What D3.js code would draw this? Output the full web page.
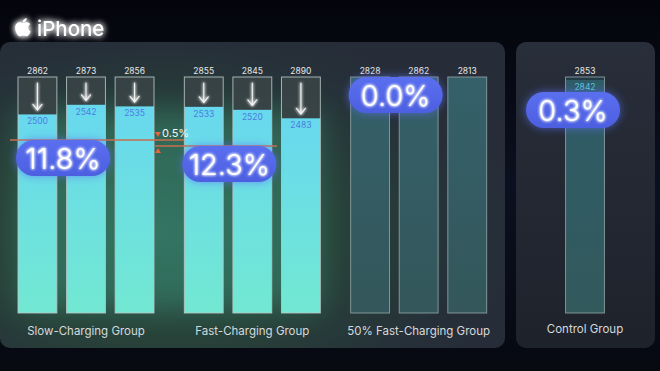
<!DOCTYPE html>
<html><head><meta charset="utf-8">
<script src="https://cdn.jsdelivr.net/npm/d3@7"></script>
<style>
html,body{margin:0;padding:0;background:#090c15;overflow:hidden;}
svg{display:block;font-family:Inter,"Open Sans",sans-serif;}
</style></head><body>
<svg id="c" width="660" height="371"></svg>
<script>
// ---- data ----
const groups = ["Slow-Charging Group", "Fast-Charging Group", "50% Fast-Charging Group", "Control Group"];
const before = [[2862, 2873, 2856], [2855, 2845, 2890], [2828, 2862, 2813], [2853]];
const after  = [[2500, 2542, 2535], [2533, 2520, 2483], [null, null, null], [2842]];
const dropLabels = ["11.8%", "12.3%", "0.0%", "0.3%"];
const dropValues = [11.8, 12.3, 0.0, 0.3];
const gapLabel = "0.5%";
const title = "iPhone";

// ---- layout ----
const W = 660, H = 371;
const svg = d3.select("#c");
const defs = svg.append("defs");

const boxTop = 77, base = 313;
const y = d3.scaleLinear().domain([1635, 2663]).range([base, boxTop]).clamp(true);
const gx = d3.scalePoint().domain(groups).range([86, 585]);
const bx = d3.scaleBand().domain([0, 1, 2]).range([-68, 68]).paddingInner(0.2);
const bw = bx.bandwidth();
const pctY = d3.scaleLinear().domain([11.8, 12.3]).range([140, 146]);

function barX(gi, i) {
  const c = gx(groups[gi]);
  if (before[gi].length === 1) return c - bw / 2;
  return c + bx(i);
}

function lin(id, stops, x2 = 0, y2 = 1) {
  const g = defs.append("linearGradient").attr("id", id)
    .attr("x1", 0).attr("y1", 0).attr("x2", x2).attr("y2", y2);
  stops.forEach(s => g.append("stop").attr("offset", s[0]).attr("stop-color", s[1]).attr("stop-opacity", s[2] == null ? 1 : s[2]));
}
lin("bgG", [[0, "#04050b"], [0.5, "#0b1020"], [1, "#070911"]]);
lin("cyan", [[0, "#68d8ee"], [1, "#72e8d2"]]);
lin("teal", [[0, "#35606a"], [1, "#33575a"]]);
lin("tealC", [[0, "#2f5c68"], [1, "#32595c"]]);
lin("pill", [[0, "#5a6ff0"], [1, "#4c5fe0"]]);
lin("p2", [[0, "#282e3a"], [1, "#1e222b"]]);
const rg = defs.append("radialGradient").attr("id", "p1").attr("cx", 0.32).attr("cy", 0.62).attr("r", 0.75);
[[0, "#2c5a4e"], [0.45, "#284339"], [0.8, "#263039"], [1, "#262c38"]].forEach(s => rg.append("stop").attr("offset", s[0]).attr("stop-color", s[1]));

function glow(id, sd) {
  const f = defs.append("filter").attr("id", id).attr("x", "-50%").attr("y", "-50%").attr("width", "200%").attr("height", "200%");
  f.append("feGaussianBlur").attr("in", "SourceGraphic").attr("stdDeviation", sd).attr("result", "b");
  const m = f.append("feMerge");
  m.append("feMergeNode").attr("in", "b");
  m.append("feMergeNode").attr("in", "b");
  m.append("feMergeNode").attr("in", "SourceGraphic");
}
glow("glowW", 3);
glow("glowS", 1.5);
defs.append("filter").attr("id", "blurBig").attr("x", "-50%").attr("y", "-50%").attr("width", "200%").attr("height", "200%")
  .append("feGaussianBlur").attr("stdDeviation", 14);
defs.append("filter").attr("id", "blurPill").attr("x", "-50%").attr("y", "-50%").attr("width", "200%").attr("height", "200%")
  .append("feGaussianBlur").attr("stdDeviation", 4);

svg.append("rect").attr("width", W).attr("height", H).attr("fill", "url(#bgG)");

svg.append("rect").attr("x", 0).attr("y", 42).attr("width", 505).attr("height", 306).attr("rx", 10).attr("fill", "url(#p1)");
svg.append("rect").attr("x", 516).attr("y", 42).attr("width", 139).attr("height", 306).attr("rx", 10).attr("fill", "url(#p2)");

svg.append("rect").attr("x", 20).attr("y", 110).attr("width", 300).attr("height", 200)
  .attr("fill", "#3fa88a").attr("opacity", 0.35).attr("filter", "url(#blurBig)");

// title
const logo = svg.append("g").attr("filter", "url(#glowW)");
logo.append("path")
  .attr("transform", "translate(15,16.6) scale(0.041)")
  .attr("fill", "#ffffff")
  .attr("d", "M318.7 268.7c-.2-36.7 16.4-64.4 50-84.8-18.8-26.9-47.2-41.7-84.7-44.6-35.5-2.8-74.3 20.7-88.5 20.7-15 0-49.4-19.7-76.4-19.7C63.3 141.2 4 184.8 4 273.5q0 39.3 14.4 81.2c12.8 36.7 59 126.7 107.2 125.2 25.2-.6 43-17.9 75.8-17.9 31.8 0 48.3 17.9 76.4 17.9 48.6-.7 90.4-82.5 102.6-119.3-65.2-30.7-61.7-90-61.7-91.9zm-56.6-164.2c27.3-32.4 24.8-61.9 24-72.5-24.1 1.4-52 16.4-67.9 34.9-17.5 19.8-27.8 44.3-25.6 71.9 26.1 2 49.9-11.4 69.5-34.3z");
logo.append("text").attr("x", 37).attr("y", 35.5).attr("fill", "#fff")
  .attr("font-size", 20.5).attr("font-weight", 500).text(title);

// bars
groups.forEach((g, gi) => {
  before[gi].forEach((b, i) => {
    const x = barX(gi, i);
    const a = after[gi][i];
    const gBar = svg.append("g");
    const isCyan = gi < 2;
    if (isCyan) {
      const ft = y(a);
      gBar.append("rect").attr("x", x).attr("y", boxTop).attr("width", bw).attr("height", ft - boxTop).attr("fill", "#384345").attr("opacity", 0.92);
      gBar.append("rect").attr("x", x).attr("y", ft).attr("width", bw).attr("height", base - ft).attr("fill", "url(#cyan)");
      const ax = x + bw / 2, y1 = boxTop + 6, y2 = ft - 4.5;
      const ar = gBar.append("g").attr("stroke", "#f4f4f4").attr("stroke-width", 1.1).attr("fill", "none")
        .attr("stroke-linecap", "round").attr("filter", "url(#glowS)");
      ar.append("line").attr("x1", ax).attr("x2", ax).attr("y1", y1).attr("y2", y2);
      ar.append("path").attr("d", `M${ax - 4.5},${y2 - 5.5}L${ax},${y2}L${ax + 4.5},${y2 - 5.5}`);
      gBar.append("text").attr("x", ax).attr("y", ft + 10).attr("text-anchor", "middle")
        .attr("font-size", 8.5).attr("fill", "#4a7ee0").text(a);
    } else if (a == null) {
      gBar.append("rect").attr("x", x).attr("y", boxTop).attr("width", bw).attr("height", base - boxTop).attr("fill", "url(#teal)");
    } else {
      const ft = Math.max(y(a), boxTop + 3);
      gBar.append("rect").attr("x", x).attr("y", boxTop).attr("width", bw).attr("height", ft - boxTop).attr("fill", "#233b44");
      gBar.append("rect").attr("x", x).attr("y", ft).attr("width", bw).attr("height", base - ft).attr("fill", "url(#tealC)");
      gBar.append("text").attr("x", x + bw / 2).attr("y", ft + 10).attr("text-anchor", "middle")
        .attr("font-size", 8.5).attr("fill", "#59c6da").text(a);
    }
    gBar.append("rect").attr("x", x).attr("y", boxTop).attr("width", bw).attr("height", base - boxTop)
      .attr("fill", "none").attr("stroke", isCyan ? "#b9c7c6" : "#8fa3a4").attr("stroke-width", 1).attr("opacity", 0.85);
    svg.append("text").attr("x", x + bw / 2).attr("y", boxTop - 3).attr("text-anchor", "middle")
      .attr("font-size", 8.5).attr("fill", "#e8e8e8").text(b);
  });
  svg.append("text").attr("x", gx(g)).attr("y", gi === 3 ? 333 : 335).attr("text-anchor", "middle")
    .attr("font-size", 11.5).attr("fill", "#d6dadc").text(g);
});

// drop reference lines
const l1 = pctY(dropValues[0]), l2 = pctY(dropValues[1]);
svg.append("line").attr("x1", 10).attr("x2", 184).attr("y1", l1).attr("y2", l1).attr("stroke", "#c86e4e").attr("stroke-width", 1.5);
svg.append("line").attr("x1", 155).attr("x2", 277).attr("y1", l2).attr("y2", l2).attr("stroke", "#c86e4e").attr("stroke-width", 1.5);
svg.append("path").attr("d", `M155,${l1 - 8}L161,${l1 - 8}L158,${l1 - 3}Z`).attr("fill", "#e8643c");
svg.append("path").attr("d", `M155,${l2 + 7}L161,${l2 + 7}L158,${l2 + 2}Z`).attr("fill", "#e8643c");
svg.append("text").attr("x", 162).attr("y", l1 - 3).attr("font-size", 11).attr("fill", "#f4f4f4").text(gapLabel);

// pills
const pillW = 94, pillH = 36;
const pillTops = [l1, l2, boxTop, boxTop + 15];
dropLabels.forEach((t, gi) => {
  const cx = gx(groups[gi]) - (gi === 3 ? 12 : 23);
  const top = pillTops[gi];
  const g = svg.append("g");
  g.append("rect").attr("x", cx - pillW / 2).attr("y", top).attr("width", pillW).attr("height", pillH).attr("rx", pillH / 2)
    .attr("fill", "#5b6ff5").attr("opacity", 0.7).attr("filter", "url(#blurPill)");
  g.append("rect").attr("x", cx - pillW / 2).attr("y", top).attr("width", pillW).attr("height", pillH).attr("rx", pillH / 2)
    .attr("fill", "url(#pill)");
  g.append("text").attr("x", cx).attr("y", top + pillH / 2 + 10.5).attr("text-anchor", "middle")
    .attr("font-size", 29).attr("font-weight", 300).attr("fill", "#ffffff").attr("filter", "url(#glowS)").text(t);
});
</script>
</body></html>
